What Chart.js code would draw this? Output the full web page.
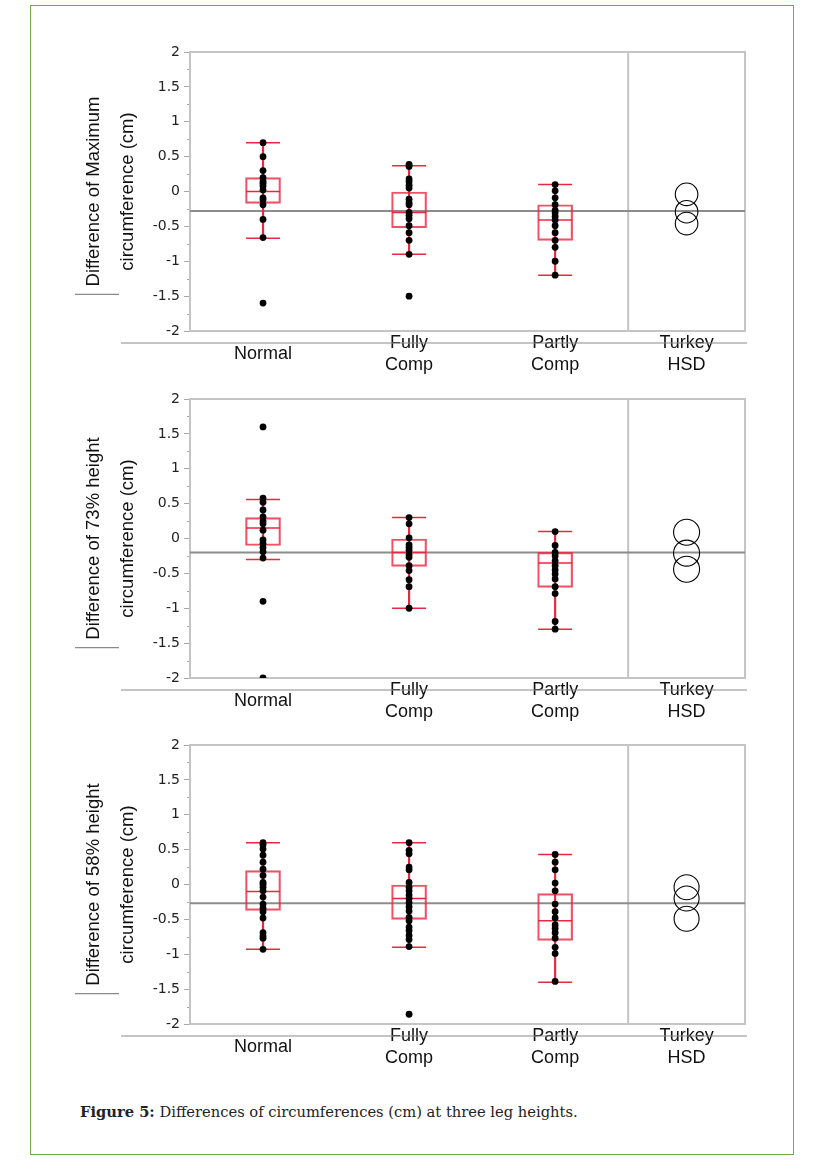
<!DOCTYPE html>
<html>
<head>
<meta charset="utf-8">
<script src="https://cdn.jsdelivr.net/npm/chart.js@4.4.1/dist/chart.umd.min.js"></script>
<style>
  html, body { margin: 0; padding: 0; background: #fff; }
  body { width: 813px; height: 1170px; position: relative; overflow: hidden; }
  .border { position: absolute; left: 30px; top: 5px; width: 762px; height: 1148px; border: 1px solid #70ad47; }
  canvas { position: absolute; left: 60px; }
  #c1 { top: 40px; }
  #c2 { top: 387px; }
  #c3 { top: 733px; }
  .caption { position: absolute; left: 80px; top: 1103px; font: 14.7px 'DejaVu Serif', 'Liberation Serif', serif; color: #222; }
</style>
</head>
<body>
<div class="border"></div>
<canvas id="c1" width="700" height="345"></canvas>
<canvas id="c2" width="700" height="345"></canvas>
<canvas id="c3" width="700" height="345"></canvas>
<div class="caption"><b>Figure 5:</b> Differences of circumferences (cm) at three leg heights.</div>

<script>
// categories and tick labels
const xLabels = ['Normal', ['Fully', 'Comp'], ['Partly', 'Comp'], ['Turkey', 'HSD']];
const yMajorTicks = [2, 1.5, 1, 0.5, 0, -0.5, -1, -1.5, -2];

// Maximum circumference
const maxNormal = [0.7, 0.5, 0.3, 0.2, 0.15, 0.12, 0.08, 0.02, -0.09, -0.12, -0.19, -0.4, -0.66, -1.6];
const maxFully = [0.39, 0.36, 0.18, 0.14, 0.09, 0.05, -0.11, -0.16, -0.19, -0.3, -0.34, -0.39, -0.49, -0.59, -0.7, -0.9, -1.5];
const maxPartly = [0.1, 0.01, -0.09, -0.19, -0.27, -0.31, -0.36, -0.41, -0.49, -0.59, -0.7, -0.8, -1.0, -1.2];
const maxQ1 = [-0.17, -0.52, -0.7];
const maxMedian = [0, -0.3, -0.41];
const maxQ3 = [0.2, 0, -0.19];
const maxLow = [-0.67, -0.9, -1.2];
const maxHigh = [0.7, 0.37, 0.1];
const maxMeans = [-0.04, -0.29, -0.46];
const maxGrand = -0.28;

// 73% height circumference
const h73Normal = [1.6, 0.58, 0.52, 0.41, 0.31, 0.25, 0.21, 0.12, -0.02, -0.07, -0.13, -0.19, -0.28, -0.9, -2.0];
const h73Fully = [0.3, 0.21, 0.01, -0.09, -0.13, -0.17, -0.23, -0.27, -0.39, -0.46, -0.59, -0.69, -1.0];
const h73Partly = [0.1, -0.1, -0.2, -0.25, -0.32, -0.39, -0.45, -0.51, -0.58, -0.69, -0.79, -1.19, -1.3];
const h73Q1 = [-0.1, -0.4, -0.7];
const h73Median = [0.15, -0.2, -0.35];
const h73Q3 = [0.3, 0, -0.2];
const h73Low = [-0.3, -1.0, -1.3];
const h73High = [0.56, 0.3, 0.1];
const h73Means = [0.09, -0.21, -0.44];
const h73Grand = -0.2;

// 58% height circumference
const h58Normal = [0.6, 0.57, 0.51, 0.42, 0.32, 0.22, 0.13, 0.03, 0, -0.04, -0.09, -0.18, -0.28, -0.34, -0.39, -0.48, -0.69, -0.74, -0.77, -0.93];
const h58Fully = [0.6, 0.49, 0.44, 0.25, 0.21, 0.03, -0.04, -0.09, -0.15, -0.2, -0.26, -0.32, -0.38, -0.47, -0.52, -0.61, -0.66, -0.73, -0.79, -0.89, -1.86];
const h58Partly = [0.43, 0.32, 0.21, 0.02, -0.09, -0.28, -0.39, -0.48, -0.58, -0.63, -0.69, -0.77, -0.9, -0.99, -1.39];
const h58Q1 = [-0.37, -0.5, -0.8];
const h58Median = [-0.1, -0.2, -0.52];
const h58Q3 = [0.2, 0, -0.13];
const h58Low = [-0.93, -0.9, -1.4];
const h58High = [0.6, 0.6, 0.43];
const h58Means = [-0.04, -0.2, -0.49];
const h58Grand = -0.27;

// x positions on the linear axis (groups, divider, HSD column)
const groupX = [0.5, 1.5, 2.5];
const hsdX = 3.4;
const xMax = 3.8;
const tickX = [0.5, 1.5, 2.5, 3.4];

const RED = '#e8283f';
const FONT = "'Liberation Sans', Arial, sans-serif";
const TITLE_SIZE = 18.5;

const decor = {
  id: 'decor',
  beforeDatasetsDraw(chart) {
    const { ctx, chartArea: a, scales: { x, y } } = chart;
    ctx.save();
    // minor ticks
    ctx.strokeStyle = '#a8a8a8';
    ctx.lineWidth = 1;
    y.ticks.forEach(t => {
      if (yMajorTicks.includes(t.value)) return;
      const py = Math.round(y.getPixelForValue(t.value)) + 0.5;
      ctx.beginPath();
      ctx.moveTo(a.left - 3, py);
      ctx.lineTo(a.left, py);
      ctx.stroke();
    });
    // frame + divider
    ctx.strokeStyle = '#c4c4c4';
    ctx.lineWidth = 2;
    ctx.strokeRect(a.left, a.top, a.right - a.left, a.bottom - a.top);
    const xd = x.getPixelForValue(3);
    ctx.beginPath();
    ctx.moveTo(xd, a.top);
    ctx.lineTo(xd, a.bottom);
    ctx.stroke();
    ctx.restore();
  },
  afterDraw(chart) {
    const { ctx, chartArea: a, scales: { y } } = chart;
    ctx.save();
    ctx.strokeStyle = '#8a8a8a';
    ctx.lineWidth = 1.2;
    // axis separator under the plot
    const by = a.bottom + 12;
    ctx.beginPath();
    ctx.moveTo(61, by);
    ctx.lineTo(a.right + 2, by);
    ctx.stroke();
    // short line under the y title
    ctx.font = TITLE_SIZE + 'px ' + FONT;
    const w = Math.max(...y.options.title.text.map(s => ctx.measureText(s).width));
    const ly = (a.top + a.bottom) / 2 + w / 2 + 8;
    ctx.beginPath();
    ctx.moveTo(15, ly);
    ctx.lineTo(59, ly);
    ctx.stroke();
    ctx.restore();
  }
};

function makePanel(id, title, dots, q1, med, q3, lo, hi, means, grand, circleR) {
  const pts = [];
  dots.forEach((vals, i) => vals.forEach(v => pts.push({ x: groupX[i], y: v })));
  const lines = [];
  [med, lo, hi].forEach(arr => arr.forEach((v, i) => lines.push({ x: groupX[i], y: v })));

  new Chart(document.getElementById(id), {
    type: 'scatter',
    data: {
      datasets: [
        {
          type: 'scatter', order: 0,
          data: pts,
          pointRadius: 3.4, pointBackgroundColor: '#000', pointBorderWidth: 0
        },
        {
          type: 'scatter', order: 1,
          data: lines,
          pointStyle: 'line', pointRadius: 17, pointBorderColor: RED, pointBorderWidth: 1.5
        },
        {
          type: 'scatter', order: 2,
          data: means.map(m => ({ x: hsdX, y: m })),
          pointRadius: circleR, pointBackgroundColor: 'rgba(0,0,0,0)',
          pointBorderColor: '#000', pointBorderWidth: 1.1
        },
        {
          type: 'bar', order: 3, grouped: false,
          data: q1.map((v, i) => ({ x: groupX[i], y: [v, q3[i]] })),
          barThickness: 35, backgroundColor: 'rgba(0,0,0,0)',
          borderColor: 'rgba(232,40,63,0.8)', borderWidth: 1.5, borderSkipped: false
        },
        {
          type: 'bar', order: 4, grouped: false,
          data: lo.map((v, i) => ({ x: groupX[i], y: [v, hi[i]] })),
          barThickness: 1.5, backgroundColor: RED, borderWidth: 0
        },
        {
          type: 'line', order: 5,
          data: [{ x: 0, y: grand }, { x: xMax, y: grand }],
          borderColor: '#8c8c8c', borderWidth: 2, pointRadius: 0
        }
      ]
    },
    options: {
      responsive: false,
      animation: false,
      events: [],
      layout: { autoPadding: false, padding: { top: 12, right: 15, left: 0, bottom: 0 } },
      plugins: { legend: { display: false }, tooltip: { enabled: false } },
      scales: {
        x: {
          type: 'linear', min: 0, max: xMax, offset: false,
          afterBuildTicks: s => { s.ticks = tickX.map(v => ({ value: v })); },
          afterFit: s => { s.height = 54; s.paddingLeft = 0; s.paddingRight = 0; },
          grid: { display: false, drawTicks: false },
          border: { display: false },
          ticks: {
            autoSkip: false, maxRotation: 0, minRotation: 0,
            crossAlign: 'center', padding: 12, color: '#111',
            font: { family: FONT, size: 18, lineHeight: 1.22 },
            callback: (v, i) => xLabels[i]
          }
        },
        y: {
          type: 'linear', min: -2, max: 2,
          afterFit: s => { s.width = 130; s.paddingTop = 0; s.paddingBottom = 0; },
          grid: {
            display: true, drawOnChartArea: false, drawTicks: true, tickLength: 6,
            tickColor: c => yMajorTicks.includes(c.tick && c.tick.value) ? '#a8a8a8' : 'rgba(0,0,0,0)'
          },
          border: { display: false },
          ticks: {
            stepSize: 0.25, autoSkip: false, padding: 4, color: '#222',
            font: { family: "'DejaVu Sans', sans-serif", size: 14 },
            callback: v => yMajorTicks.includes(v) ? String(v) : ''
          },
          title: {
            display: true, text: title, color: '#111',
            font: { family: FONT, size: TITLE_SIZE, lineHeight: 1.84 },
            padding: { top: 16.5, bottom: 0 }
          }
        }
      }
    },
    plugins: [decor]
  });
}

makePanel('c1', ['Difference of Maximum', 'circumference (cm)'],
  [maxNormal, maxFully, maxPartly], maxQ1, maxMedian, maxQ3, maxLow, maxHigh, maxMeans, maxGrand, 11.3);
makePanel('c2', ['Difference of 73% height', 'circumference (cm)'],
  [h73Normal, h73Fully, h73Partly], h73Q1, h73Median, h73Q3, h73Low, h73High, h73Means, h73Grand, 13);
makePanel('c3', ['Difference of 58% height', 'circumference (cm)'],
  [h58Normal, h58Fully, h58Partly], h58Q1, h58Median, h58Q3, h58Low, h58High, h58Means, h58Grand, 12.5);
</script>
</body>
</html>
